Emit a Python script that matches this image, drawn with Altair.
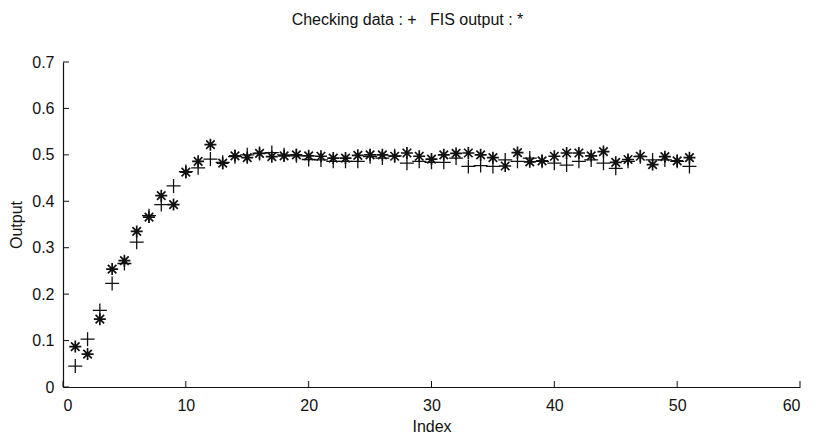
import altair as alt
import pandas as pd

# ---- data ----
index = list(range(1, 52))

fis_output = [
    0.087, 0.071, 0.146, 0.254, 0.272, 0.335, 0.366, 0.412, 0.393, 0.463,
    0.486, 0.522, 0.482, 0.498, 0.494, 0.503, 0.496, 0.498, 0.500, 0.498,
    0.497, 0.493, 0.493, 0.499, 0.500, 0.500, 0.497, 0.504, 0.497, 0.491,
    0.500, 0.503, 0.504, 0.500, 0.494, 0.476, 0.505, 0.485, 0.487, 0.497,
    0.504, 0.504, 0.498, 0.507, 0.484, 0.490, 0.497, 0.479, 0.496, 0.487,
    0.494,
]

checking_data = [
    0.045, 0.103, 0.165, 0.223, 0.266, 0.312, 0.369, 0.393, 0.433, 0.464,
    0.472, 0.491, 0.484, 0.496, 0.500, 0.503, 0.505, 0.500, 0.498, 0.490,
    0.489, 0.486, 0.486, 0.486, 0.496, 0.493, 0.498, 0.482, 0.486, 0.484,
    0.484, 0.493, 0.475, 0.477, 0.475, 0.489, 0.486, 0.493, 0.486, 0.482,
    0.478, 0.486, 0.489, 0.482, 0.471, 0.486, 0.496, 0.489, 0.489, 0.486,
    0.475,
]

x_ticks = [0, 10, 20, 30, 40, 50, 60]
y_ticks = [0, 0.1, 0.2, 0.3, 0.4, 0.5, 0.6, 0.7]

title_text = "Checking data : +\u00a0\u00a0\u00a0FIS output : *"
x_title = "Index"
y_title = "Output"

# ---- tables ----
df_fis = pd.DataFrame({"Index": index, "Output": fis_output})
df_chk = pd.DataFrame({"Index": index, "Output": checking_data})
df_xt = pd.DataFrame({"t": x_ticks})
df_yt = pd.DataFrame({"t": y_ticks})

W, H = 737, 325
FONT = "Liberation Sans"
INK = "#111111"

xscale = alt.Scale(domain=[0, 60], nice=False, zero=False)
yscale = alt.Scale(domain=[0, 0.7], nice=False, zero=False)

xaxis = alt.Axis(values=x_ticks, title=x_title, format="d", labelPadding=10,
                 titlePadding=5)
yaxis = alt.Axis(values=y_ticks, title=y_title, format=".1~f", labelPadding=9,
                 titlePadding=7)

PLUS = "M-1,0H1M0,-1V1"
STAR = "M-1,0H1M0,-1V1M-0.71,-0.71L0.71,0.71M-0.71,0.71L0.71,-0.71"

chk = alt.Chart(df_chk).mark_point(
    shape=PLUS, size=196, filled=False, stroke=INK, strokeWidth=1.3, opacity=1
).encode(
    x=alt.X("Index:Q", scale=xscale, axis=xaxis),
    y=alt.Y("Output:Q", scale=yscale, axis=yaxis),
)

fis = alt.Chart(df_fis).mark_point(
    shape=STAR, size=144, filled=False, stroke=INK, strokeWidth=1.7, opacity=1
).encode(
    x=alt.X("Index:Q", scale=xscale),
    y=alt.Y("Output:Q", scale=yscale),
)

# inward ticks (MATLAB style)
xt = alt.Chart(df_xt).mark_rule(color=INK, strokeWidth=1).encode(
    x=alt.X("t:Q", scale=xscale),
    y=alt.value(H),
    y2=alt.value(H - 6),
)
yt = alt.Chart(df_yt).mark_rule(color=INK, strokeWidth=1).encode(
    y=alt.Y("t:Q", scale=yscale),
    x=alt.value(0),
    x2=alt.value(6),
)

chart = alt.layer(xt, yt, chk, fis).properties(
    width=W,
    height=H,
    autosize=alt.AutoSizeParams(type="none"),
    padding={"left": 63, "top": 62, "right": 16, "bottom": 60},
    background="white",
    title=alt.TitleParams(
        text=title_text, font=FONT, fontSize=16, fontWeight="normal",
        color=INK, anchor="middle", dx=-24, offset=26,
    ),
).configure_view(
    stroke=None
).configure_axis(
    grid=False,
    ticks=False,
    domainColor=INK,
    domainWidth=1.2,
    labelFont=FONT,
    labelFontSize=16,
    labelColor=INK,
    titleFont=FONT,
    titleFontSize=16,
    titleFontWeight="normal",
    titleColor=INK,
)

chart.save("out.html", embed_options={"renderer": "svg", "actions": False})
